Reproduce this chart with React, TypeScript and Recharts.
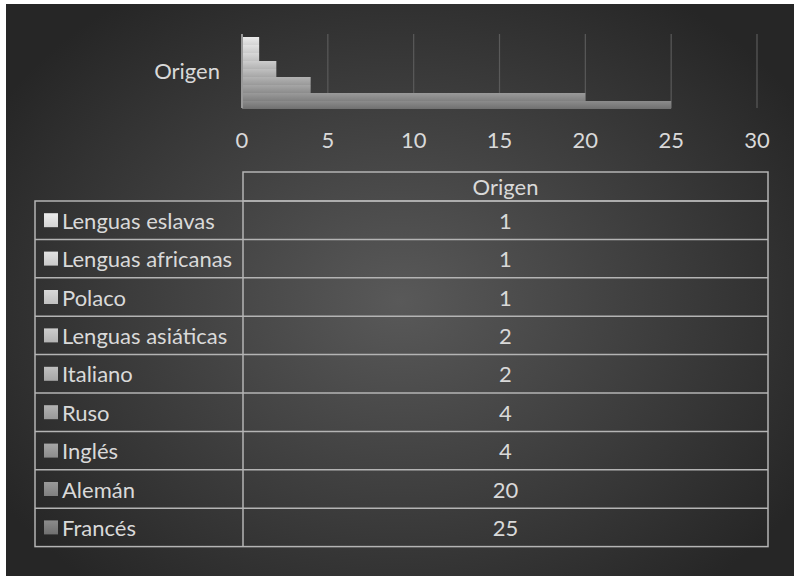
import React from 'react';
import { BarChart, Bar, XAxis, YAxis, CartesianGrid } from 'recharts';

const categories = ['Origen'];
const seriesNames = [
  'Lenguas eslavas',
  'Lenguas africanas',
  'Polaco',
  'Lenguas asiáticas',
  'Italiano',
  'Ruso',
  'Inglés',
  'Alemán',
  'Francés',
];
const seriesValues = [1, 1, 1, 2, 2, 4, 4, 20, 25];
const xTicks = [0, 5, 10, 15, 20, 25, 30];

// light -> dark greys, one pair (top, bottom) per series
const shades = [
  ['#ececec', '#d4d4d4'],
  ['#e2e2e2', '#cacaca'],
  ['#d8d8d8', '#c0c0c0'],
  ['#cdcdcd', '#b3b3b3'],
  ['#c0c0c0', '#a6a6a6'],
  ['#b3b3b3', '#999999'],
  ['#a6a6a6', '#8c8c8c'],
  ['#9a9a9a', '#808080'],
  ['#8c8c8c', '#707070'],
];

const chartData = categories.map((name) => {
  const row: Record<string, string | number> = { name };
  seriesNames.forEach((s, i) => {
    row[s] = seriesValues[i];
  });
  return row;
});

const FONT = 'Lato, "Open Sans", sans-serif';
const TEXT = '#d9d9d9';
const LINE = '#b4b4b4';
const FS = 22;

// data table geometry
const tLeft = 35;
const tMid = 243;
const tRight = 768;
const headTop = 172;
const rowTop = 201;
const rowH = 38.4;

const DataTable: React.FC = () => {
  const bottom = rowTop + rowH * seriesNames.length;
  return (
    <svg width={794} height={576} style={{ position: 'absolute', left: 0, top: 0 }}>
      <defs>
        {shades.map((c, i) => (
          <linearGradient key={i} id={`key${i}`} x1="0" y1="0" x2="0" y2="1">
            <stop offset="0%" stopColor={c[0]} />
            <stop offset="100%" stopColor={c[1]} />
          </linearGradient>
        ))}
      </defs>
      <g stroke={LINE} strokeWidth={1.5} fill="none">
        {/* header cell */}
        <rect x={tMid} y={headTop} width={tRight - tMid} height={rowTop - headTop} />
        <rect x={tLeft} y={rowTop} width={tRight - tLeft} height={bottom - rowTop} />
        <line x1={tMid} y1={rowTop} x2={tMid} y2={bottom} />
        {seriesNames.slice(1).map((_, i) => (
          <line key={i} x1={tLeft} y1={rowTop + rowH * (i + 1)} x2={tRight} y2={rowTop + rowH * (i + 1)} />
        ))}
      </g>
      <text
        x={(tMid + tRight) / 2}
        y={(headTop + rowTop) / 2}
        textAnchor="middle"
        dominantBaseline="central"
        fill={TEXT}
        fontFamily={FONT}
        fontSize={FS}
      >
        {categories[0]}
      </text>
      {seriesNames.map((s, i) => {
        const cy = rowTop + rowH * i + rowH / 2;
        return (
          <g key={s}>
            <rect x={44} y={cy - 7} width={14} height={14} fill={`url(#key${i})`} />
            <text x={62} y={cy} dominantBaseline="central" fill={TEXT} fontFamily={FONT} fontSize={FS}>
              {s}
            </text>
            <text
              x={(tMid + tRight) / 2}
              y={cy}
              textAnchor="middle"
              dominantBaseline="central"
              fill={TEXT}
              fontFamily={FONT}
              fontSize={FS}
            >
              {seriesValues[i]}
            </text>
          </g>
        );
      })}
    </svg>
  );
};

export default function App() {
  return (
    <div style={{ position: 'absolute', left: 0, top: 0, width: 794, height: 576, background: '#ffffff' }}>
      <div
        style={{
          position: 'absolute',
          left: 6,
          top: 4,
          width: 788,
          height: 572,
          background: 'radial-gradient(ellipse 60% 65% at 50% 52%, #595959 0%, #3d3d3d 55%, #262626 100%)',
        }}
      />
      <div style={{ position: 'absolute', left: 0, top: 0 }}>
        <BarChart
          width={794}
          height={576}
          data={chartData}
          layout="vertical"
          margin={{ top: 34, right: 37, bottom: 438, left: 0 }}
          barCategoryGap={3}
          barGap={0}
        >
          <defs>
            {shades.map((c, i) => (
              <linearGradient key={i} id={`bar${i}`} x1="0" y1="0" x2="0" y2="1">
                <stop offset="0%" stopColor={c[0]} />
                <stop offset="100%" stopColor={c[1]} />
              </linearGradient>
            ))}
          </defs>
          <CartesianGrid horizontal={false} stroke="#5a5a5a" strokeWidth={1.2} />
          <XAxis
            type="number"
            domain={[0, 30]}
            ticks={xTicks}
            axisLine={false}
            tickLine={false}
            tickMargin={18}
            height={30}
            tick={{ fill: TEXT, fontSize: FS, fontFamily: FONT }}
          />
          <YAxis
            type="category"
            dataKey="name"
            width={242}
            tickLine={false}
            axisLine={{ stroke: '#9a9a9a', strokeWidth: 2 }}
            tickMargin={16}
            tick={{ fill: TEXT, fontSize: FS, fontFamily: FONT }}
          />
          {seriesNames.map((s, i) => (
            <Bar key={s} dataKey={s} fill={`url(#bar${i})`} isAnimationActive={false} />
          ))}
        </BarChart>
      </div>
      <DataTable />
    </div>
  );
}
